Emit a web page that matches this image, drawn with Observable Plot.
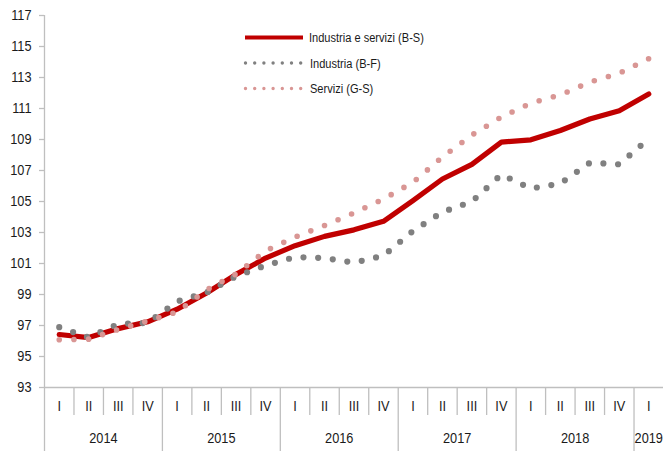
<!DOCTYPE html>
<html>
<head>
<meta charset="utf-8">
<script src="https://cdn.jsdelivr.net/npm/d3@7"></script>
<script src="https://cdn.jsdelivr.net/npm/@observablehq/plot@0.6"></script>
<style>
  html, body { margin: 0; padding: 0; background: #fff; }
  #wrap { position: relative; width: 663px; height: 451px; overflow: hidden; }
  #legend { position: absolute; left: 0; top: 0; pointer-events: none; }
</style>
</head>
<body>
<div id="wrap"></div>
<script>
// ---- data ----
const years = [2014, 2015, 2016, 2017, 2018, 2019];
const quarterLabels = ["I", "II", "III", "IV"];
const yTicks = [93, 95, 97, 99, 101, 103, 105, 107, 109, 111, 113, 115, 117];

const seriesNames = ["Industria e servizi (B-S)", "Industria (B-F)", "Servizi (G-S)"];
const industriaServizi = [96.42, 96.22, 96.8, 97.24, 98.05, 99.1, 100.3, 101.35, 102.15, 102.75, 103.17, 103.72, 105.06, 106.45, 107.4, 108.83, 108.98, 109.58, 110.32, 110.85, 111.93];
const industria        = [96.89, 96.22, 97.1, 97.17, 98.55, 99.13, 100.18, 100.87, 101.42, 101.35, 101.06, 101.5, 103.1, 104.32, 105.0, 106.74, 105.84, 106.16, 107.5, 107.4, 109.05];
const servizi          = [96.08, 96.12, 96.74, 97.29, 97.87, 99.3, 100.32, 101.81, 102.71, 103.45, 104.26, 105.16, 106.24, 107.87, 109.29, 110.45, 111.35, 111.88, 112.7, 113.28, 114.22];

const colors = ["#c00000", "#808080", "#d99694"];

// ---- derived ----
const n = industriaServizi.length;
const idx = d3.range(n);
const periods = idx.map(i => ({i, year: years[Math.floor(i / 4)], q: quarterLabels[i % 4]}));
const rows = vals => vals.map((v, i) => ({i, v}));

const bounds = d3.range(0, n).map(k => k - 0.5);          // band edges
const yearBounds = bounds.filter(b => (b + 0.5) % 4 === 0);
const quarterBounds = bounds.filter(b => (b + 0.5) % 4 !== 0);
const yearCenters = years.map((y, k) => {
  const members = idx.filter(i => Math.floor(i / 4) === k);
  return {y, c: d3.mean([members[0], members[members.length - 1]])};
});

const font = "'Liberation Sans', Arial, sans-serif";
const axisGray = "#bfbfbf";
const textColor = "#1a1a1a";

const chart = Plot.plot({
  width: 663,
  height: 451,
  marginLeft: 44,
  marginRight: 0,
  marginTop: 15,
  marginBottom: 64,
  style: {fontFamily: font, fontSize: "15px", color: textColor, background: "#fff", overflow: "visible"},
  x: {type: "linear", domain: [-0.5, n - 0.5], axis: null},
  y: {domain: [93, 117], axis: null},
  marks: [
    Plot.ruleY([93], {stroke: axisGray, strokeWidth: 1.3}),
    Plot.ruleX([-0.5], {stroke: axisGray, strokeWidth: 1.3}),
    Plot.axisY({ticks: yTicks, tickSize: 5, tickPadding: 8, stroke: axisGray, strokeWidth: 1.3, tickFormat: d => String(d), label: null}),
    // quarter separators
    Plot.axisX({ticks: quarterBounds, tickSize: 28, tickFormat: () => "", stroke: axisGray, strokeWidth: 1.3, label: null}),
    // year separators
    Plot.axisX({ticks: yearBounds, tickSize: 64, tickFormat: () => "", stroke: axisGray, strokeWidth: 1.3, label: null}),
    // quarter labels
    Plot.axisX({ticks: idx, tickSize: 0, tickPadding: 12.5, tickFormat: i => periods[i].q, label: null}),
    // year labels
    Plot.axisX({ticks: yearCenters.map(d => d.c), tickSize: 0, tickPadding: 44.5,
      tickFormat: c => String(yearCenters.find(d => d.c === c).y), label: null}),
    Plot.line(rows(industriaServizi), {x: "i", y: "v", stroke: colors[0], strokeWidth: 5.2, strokeLinejoin: "round"}),
    Plot.line(rows(industria), {x: "i", y: "v", stroke: colors[1], strokeWidth: 6.2, strokeLinecap: "round", strokeDasharray: "0 14.7"}),
    Plot.line(rows(servizi), {x: "i", y: "v", stroke: colors[2], strokeWidth: 5.6, strokeLinecap: "round", strokeDasharray: "0 14.7"})
  ]
});

const wrap = document.getElementById("wrap");
wrap.appendChild(chart);

// narrow (Arial Narrow–like) rendering: horizontal squeeze around each text's anchor
function narrow(sel, s) {
  sel.each(function () {
    const t = d3.select(this);
    const x = +(t.attr("x") || 0);
    const prev = t.attr("transform") || "";
    t.attr("transform", `${prev} translate(${x},0) scale(${s},1) translate(${-x},0)`);
  });
}
narrow(d3.select(chart).selectAll("text"), 0.85);

// ---- legend overlay ----
const legend = d3.select(wrap).append("svg")
  .attr("id", "legend").attr("width", 663).attr("height", 451);
const legendRows = [
  {name: seriesNames[0], color: colors[0], kind: "solid"},
  {name: seriesNames[1], color: colors[1], kind: "dot"},
  {name: seriesNames[2], color: colors[2], kind: "dot"}
];
const g = legend.selectAll("g").data(legendRows).join("g")
  .attr("transform", (d, k) => `translate(245, ${37.5 + k * 25.5})`);
g.filter(d => d.kind === "solid").append("line")
  .attr("x1", 0).attr("x2", 58).attr("y1", 0).attr("y2", 0)
  .attr("stroke", d => d.color).attr("stroke-width", 4);
g.filter(d => d.kind === "dot").append("line")
  .attr("x1", 0.5).attr("x2", 56).attr("y1", 0).attr("y2", 0)
  .attr("stroke", d => d.color).attr("stroke-width", 3.4)
  .attr("stroke-linecap", "round").attr("stroke-dasharray", "0 9.2");
const lt = g.append("text")
  .attr("x", (d, k) => k === 0 ? 64 : 65)
  .attr("y", 0).attr("dy", "0.35em")
  .attr("font-family", font).attr("font-size", 13.5).attr("fill", textColor)
  .text(d => d.name);
narrow(lt, 0.82);
</script>
</body>
</html>
